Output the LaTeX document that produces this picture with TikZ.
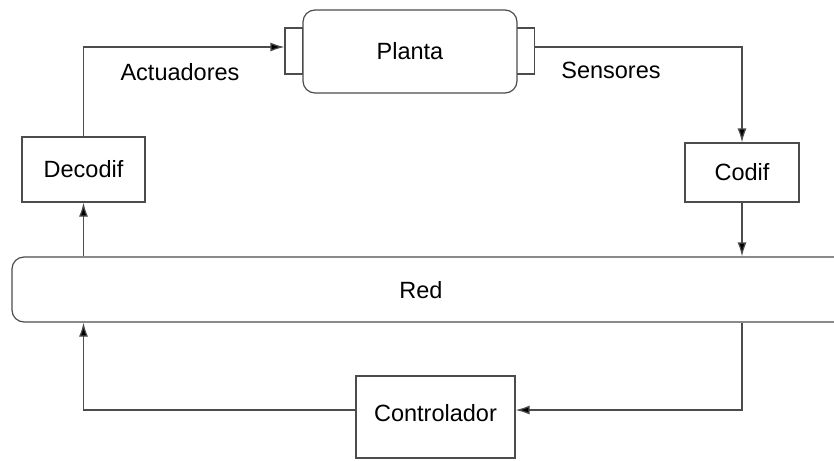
\documentclass[tikz,border=0pt]{standalone}
\usepackage{fontspec}
\setmainfont{Liberation Sans}
\usetikzlibrary{arrows.meta}
\begin{document}
\begin{tikzpicture}[x=1pt,y=-1pt,
  line width=1.2pt, draw=black!70,
  every node/.style={font=\fontsize{23.5}{28}\selectfont},
  blk/.style={draw=black!70, line width=1.2pt, inner sep=0pt, fill=white},
  arr/.style={draw=black!70, line width=1.2pt, -{Latex[length=14pt,width=9pt,fill=black]}}]
\useasboundingbox (0,0) rectangle (834,460);
\clip (0,0) rectangle (834,460);

% plant with its two ports
\node[blk, minimum width=18pt, minimum height=46pt] (pin)  at (294,51) {};
\node[blk, minimum width=18pt, minimum height=46pt] (pout) at (525.5,51) {};
\node[blk, rounded corners=12pt, minimum width=214pt, minimum height=83pt] (planta) at (410,51.5) {Planta};

% coder / decoder
\node[blk, minimum width=123pt, minimum height=65pt] (decodif) at (83.5,169.5) {Decodif};
\node[blk, minimum width=114pt, minimum height=59pt] (codif) at (742,172.5) {Codif};

% network bar (runs past the right edge)
\node[blk, rounded corners=12pt, minimum width=838pt, minimum height=65pt] (red) at (431,289.5) {};
\node (redtxt) at (421,290) {Red};

% controller (bottom edge sits on the lower border)
\node[blk, minimum width=159pt, minimum height=82pt] (ctrl) at (435.5,417) {};
\node (ctrltxt) at (435.5,413) {Controlador};

% labels
\node (act) at (180,72) {Actuadores};
\node (sen) at (611,70) {Sensores};

% connectors
\draw[arr] (decodif.north) |- ([yshift=4pt]pin.west);
\draw[arr] ([yshift=4pt]pout.east) -| (codif.north);
\draw[arr] (codif.south) -- (codif.south |- red.north);
\draw[arr] (red.north -| decodif.south) -- (decodif.south);
\draw[arr] (red.south -| codif.south) |- ([yshift=7pt]ctrl.east);
\draw[arr] ([yshift=7pt]ctrl.west) -| (red.south -| decodif.south);
\end{tikzpicture}
\end{document}
